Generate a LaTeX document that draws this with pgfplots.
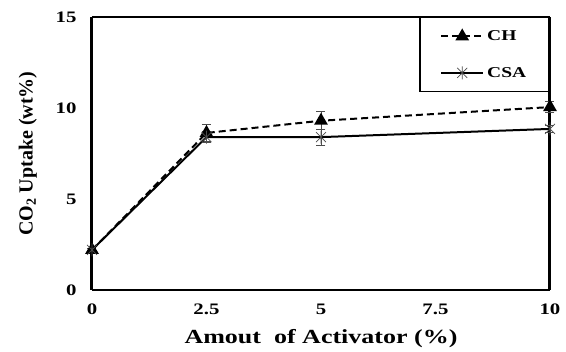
\documentclass[border=0pt]{standalone}
\usepackage{pgfplots}
\pgfplotsset{compat=1.18}
\usepackage{fontspec}
\setmainfont{Liberation Serif}

% star marker: a cross plus a vertical stroke
\pgfdeclareplotmark{xstar}{%
  \pgfpathmoveto{\pgfqpoint{-\pgfplotmarksize}{-\pgfplotmarksize}}%
  \pgfpathlineto{\pgfqpoint{\pgfplotmarksize}{\pgfplotmarksize}}%
  \pgfpathmoveto{\pgfqpoint{-\pgfplotmarksize}{\pgfplotmarksize}}%
  \pgfpathlineto{\pgfqpoint{\pgfplotmarksize}{-\pgfplotmarksize}}%
  \pgfpathmoveto{\pgfqpoint{0pt}{-1.3\pgfplotmarksize}}%
  \pgfpathlineto{\pgfqpoint{0pt}{1.3\pgfplotmarksize}}%
  \pgfusepathqstroke}

\newcommand{\wide}[1]{\scalebox{1.3}[1]{#1}}

\begin{document}
\begin{tikzpicture}[x=1pt,y=1pt]
\begin{axis}[
  scale only axis,
  width=458pt, height=273pt,
  xmin=0, xmax=10, ymin=0, ymax=15,
  xtick={0,2.5,5,7.5,10},
  xticklabels={\wide{0},\wide{2.5},\wide{5},\wide{7.5},\wide{10}},
  ytick={0,5,10,15},
  yticklabels={\wide{0},\wide{5},\wide{10},\wide{15}},
  major tick length=0pt,
  tick label style={font=\fontsize{16}{18}\selectfont\bfseries},
  xticklabel style={yshift=-10pt},
  yticklabel style={xshift=-12pt},
  xlabel={\wide{Amout\ \ of Activator (\%)}},
  ylabel={CO\textsubscript{2} Uptake (wt\%)},
  label style={font=\fontsize{20}{22}\selectfont\bfseries},
  xlabel style={at={(axis description cs:0.5,-0.178)}, anchor=center},
  ylabel style={at={(axis description cs:-0.14,0.5)}, anchor=center, rotate=0},
  separate axis lines,
  every outer x axis line/.append style={line width=2pt},
  every outer y axis line/.append style={line width=3pt},
  legend style={at={(1,1)}, anchor=north east, draw=black, line width=1.5pt,
    font=\fontsize{15}{17}\selectfont\bfseries, row sep=19pt,
    inner xsep=20pt, inner ysep=10pt, nodes={inner sep=3pt}},
  legend cell align=left,
  legend image code/.code={%
    \draw[mark repeat=2,mark phase=2,#1]
      plot coordinates {(0pt,0pt) (21pt,0pt) (42pt,0pt)};},
  clip=false,
]
\addplot[black, line width=2pt, dash pattern=on 7pt off 4pt,
  mark=triangle*, mark size=6pt, mark options={solid},
  error bars/.cd, y dir=both, y explicit,
  error bar style={line width=0.7pt, solid, gray!60!black},
  error mark options={rotate=90, mark size=4.5pt, line width=0.7pt, gray!60!black}]
  coordinates {
  (0,2.2) +- (0,0.1)
  (2.5,8.63) +- (0,0.45)
  (5,9.3) +- (0,0.5)
  (10,10.05) +- (0,0.3)
};
\addlegendentry{\wide{CH}}
\addplot[black, line width=2pt,
  mark=xstar, mark size=5pt,
  mark options={solid, line width=0.7pt, draw=gray!60!black},
  error bars/.cd, y dir=both, y explicit,
  error bar style={line width=0.7pt, solid, gray!60!black},
  error mark options={rotate=90, mark size=4.5pt, line width=0.7pt, gray!60!black}]
  coordinates {
  (0,2.2) +- (0,0.1)
  (2.5,8.4) +- (0,0.3)
  (5,8.4) +- (0,0.45)
  (10,8.85) +- (0,0.2)
};
\addlegendentry{\wide{CSA}}
\end{axis}
% page margins around the plot area
\path (current axis.south west) ++(-92pt,-61pt) rectangle ++(566pt,351pt);
\end{tikzpicture}
\end{document}
